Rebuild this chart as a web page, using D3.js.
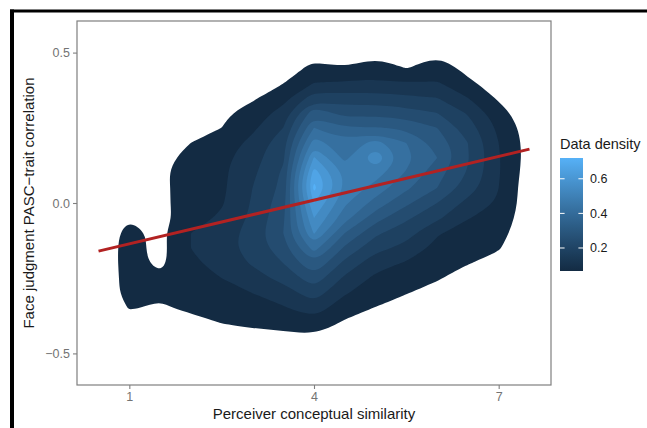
<!DOCTYPE html>
<html><head><meta charset="utf-8">
<script src="https://cdn.jsdelivr.net/npm/d3@7"></script>
<style>body{margin:0;background:#fff} svg{display:block} text{font-family:"Liberation Sans",Arial,sans-serif}</style>
</head><body><svg id="c" width="647" height="428"></svg>
<script>
// density grid: columns = gridX, rows = gridY (top to bottom)
const gridX = [0.5,1.0,1.5,2.0,2.5,3.0,3.5,4.0,4.5,5.0,5.5,6.0,6.5,7.0,7.5];
const gridY = [0.55,0.50,0.45,0.40,0.35,0.30,0.25,0.20,0.15,0.10,0.05,0.00,-0.05,-0.10,-0.15,-0.20,-0.25,-0.30,-0.35,-0.40,-0.45,-0.50,-0.55];
const density = [
 [0,0,0,0,0,0,0,0,0,0,0,0,0,0,0],
 [0,0,0,0,0,0,0.019,0.049,0.037,0.055,0.031,0.058,0.031,0.014,0],
 [0,0,0,0,0,0.019,0.043,0.079,0.067,0.091,0.064,0.091,0.052,0.025,0],
 [0,0,0,0,0.019,0.040,0.064,0.127,0.132,0.138,0.127,0.132,0.076,0.043,0],
 [0,0,0,0.019,0.037,0.058,0.103,0.216,0.210,0.210,0.198,0.186,0.127,0.058,0.014],
 [0,0,0.019,0.037,0.055,0.091,0.150,0.341,0.281,0.287,0.269,0.246,0.180,0.091,0.025],
 [0,0,0.031,0.043,0.067,0.115,0.186,0.424,0.365,0.370,0.353,0.305,0.216,0.115,0.037],
 [0,0,0.037,0.067,0.091,0.144,0.222,0.513,0.442,0.510,0.424,0.341,0.246,0.127,0.043],
 [0,0,0.043,0.091,0.109,0.162,0.234,0.608,0.466,0.590,0.442,0.365,0.251,0.132,0.043],
 [0,0,0.052,0.103,0.115,0.174,0.257,0.692,0.531,0.513,0.418,0.329,0.240,0.132,0.037],
 [0,0.019,0.052,0.097,0.115,0.186,0.263,0.739,0.531,0.460,0.376,0.305,0.216,0.127,0.031],
 [0,0.040,0.052,0.097,0.121,0.192,0.281,0.662,0.495,0.400,0.317,0.246,0.168,0.121,0.031],
 [0.014,0.064,0.049,0.097,0.138,0.198,0.293,0.603,0.448,0.329,0.257,0.198,0.129,0.109,0.025],
 [0.028,0.085,0.052,0.127,0.156,0.210,0.305,0.549,0.365,0.257,0.210,0.132,0.109,0.091,0.019],
 [0.031,0.088,0.049,0.127,0.162,0.210,0.281,0.448,0.293,0.204,0.168,0.109,0.091,0.073,0],
 [0.031,0.088,0.055,0.115,0.150,0.192,0.246,0.359,0.228,0.150,0.121,0.091,0.070,0.043,0],
 [0.031,0.085,0.079,0.097,0.127,0.162,0.204,0.281,0.174,0.115,0.097,0.073,0.037,0.019,0],
 [0.028,0.085,0.073,0.085,0.103,0.127,0.156,0.216,0.132,0.097,0.069,0.043,0,0,0],
 [0.019,0.070,0.061,0.076,0.091,0.103,0.121,0.156,0.091,0.064,0.037,0.014,0,0,0],
 [0,0.037,0.025,0.049,0.067,0.079,0.085,0.103,0.058,0.031,0,0,0,0,0],
 [0,0,0,0,0.025,0.043,0.049,0.055,0.025,0,0,0,0,0,0],
 [0,0,0,0,0,0,0,0.019,0,0,0,0,0,0,0],
 [0,0,0,0,0,0,0,0,0,0,0,0,0,0,0]
];
const levels = [0.067,0.127,0.186,0.246,0.305,0.365,0.424,0.484,0.543,0.603,0.662,0.720];
const xTicks = [1,4,7];
const yTicks = [-0.5,0.0,0.5];
const legendTicks = [0.2,0.4,0.6];
const fitX = [0.5,7.5];
const fitY = [-0.160,0.179];

const svg = d3.select("#c");
// outer black frame (top and left)
svg.append("rect").attr("x",10).attr("y",9.5).attr("width",637).attr("height",3).attr("fill","#000");
svg.append("rect").attr("x",10).attr("y",9.5).attr("width",4).attr("height",419).attr("fill","#000");

const P = {l:77, r:551, t:21, b:385};
const x = d3.scaleLinear().domain([0.15,7.85]).range([P.l,P.r]);
const y = d3.scaleLinear().domain([-0.605,0.605]).range([P.b,P.t]);
const color = d3.scaleLinear().domain([0.067,0.72]).range(["#132B43","#56B1F7"]).interpolate(d3.interpolateLab);

svg.append("clipPath").attr("id","clip").append("rect")
  .attr("x",P.l).attr("y",P.t).attr("width",P.r-P.l).attr("height",P.b-P.t);

const nx = gridX.length, ny = gridY.length;
const gx = d3.scaleLinear().domain([0.5,nx-0.5]).range([gridX[0],gridX[nx-1]]);
const gy = d3.scaleLinear().domain([0.5,ny-0.5]).range([gridY[0],gridY[ny-1]]);
const contours = d3.contours().size([nx,ny]).thresholds(levels)(density.flat());
const line = d3.line().curve(d3.curveBasisClosed);
const g = svg.append("g").attr("clip-path","url(#clip)");
contours.forEach(c => {
  const d = c.coordinates.map(poly => poly.map(ring => {
    const pts = ring.slice(0,-1).map(p => [x(gx(p[0])), y(gy(p[1]))]);
    return line(pts);
  }).join("")).join("");
  if (d) g.append("path").attr("d",d).attr("fill",color(c.value)).attr("fill-rule","evenodd");
});

// fitted line
g.append("line").attr("x1",x(fitX[0])).attr("y1",y(fitY[0])).attr("x2",x(fitX[1])).attr("y2",y(fitY[1]))
  .attr("stroke","#B22222").attr("stroke-width",3);

// panel border
svg.append("rect").attr("x",P.l).attr("y",P.t).attr("width",P.r-P.l).attr("height",P.b-P.t)
  .attr("fill","none").attr("stroke","#7f7f7f").attr("stroke-width",1.2);

// axes
const xa = svg.append("g").attr("transform",`translate(0,${P.b})`)
  .call(d3.axisBottom(x).tickValues(xTicks).tickSize(4).tickPadding(3).tickFormat(d3.format("d")));
const ya = svg.append("g").attr("transform",`translate(${P.l},0)`)
  .call(d3.axisLeft(y).tickValues(yTicks).tickSize(4).tickPadding(3).tickFormat(d => d===0 ? "0.0" : d3.format(".1f")(d).replace("-","\u2212")));
[xa,ya].forEach(a => {
  a.select(".domain").remove();
  a.selectAll("line").attr("stroke","#7f7f7f").attr("stroke-width",1.1);
  a.selectAll("text").attr("fill","#737373").style("font-size","12.5px").attr("font-family","Liberation Sans, Arial, sans-serif");
});

svg.append("text").attr("x",(P.l+P.r)/2).attr("y",419).attr("text-anchor","middle")
  .style("font-size","15px").attr("fill","#1a1a1a").text("Perceiver conceptual similarity");
svg.append("text").attr("transform",`translate(34,${(P.t+P.b)/2}) rotate(-90)`).attr("text-anchor","middle")
  .style("font-size","15px").attr("fill","#1a1a1a").text("Face judgment PASC\u2212trait correlation");

// legend
const L = {x:560, w:23, top:158, bot:271};
const ly = d3.scaleLinear().domain([0.067,0.72]).range([L.bot,L.top]);
const grad = svg.append("defs").append("linearGradient").attr("id","lg").attr("x1",0).attr("y1",1).attr("x2",0).attr("y2",0);
d3.range(0,1.0001,0.1).forEach(t => grad.append("stop").attr("offset",t).attr("stop-color",color(0.067+t*(0.72-0.067))));
svg.append("rect").attr("x",L.x).attr("y",L.top).attr("width",L.w).attr("height",L.bot-L.top).attr("fill","url(#lg)");
legendTicks.forEach(v => {
  const yy = ly(v);
  svg.append("line").attr("x1",L.x).attr("x2",L.x+4.6).attr("y1",yy).attr("y2",yy).attr("stroke","#fff").attr("stroke-width",1);
  svg.append("line").attr("x1",L.x+L.w-4.6).attr("x2",L.x+L.w).attr("y1",yy).attr("y2",yy).attr("stroke","#fff").attr("stroke-width",1);
  svg.append("text").attr("x",L.x+L.w+7).attr("y",yy).attr("dy","0.35em").style("font-size","12.5px").attr("fill","#1a1a1a").text(d3.format(".1f")(v));
});
svg.append("text").attr("x",L.x).attr("y",149).style("font-size","14.5px").attr("fill","#1a1a1a").text("Data density");
</script></body></html>
